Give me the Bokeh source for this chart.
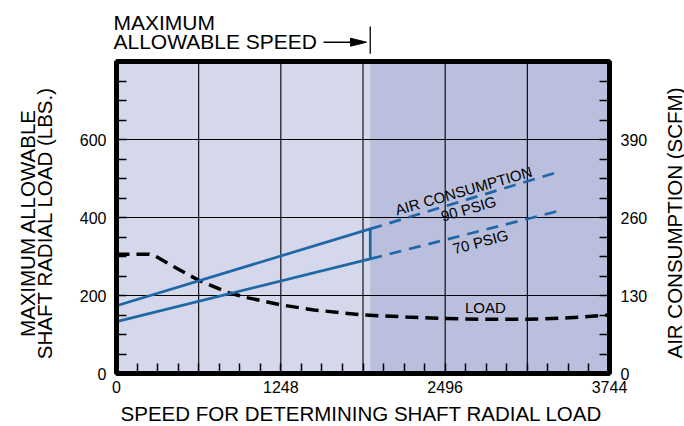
from bokeh.plotting import figure
from bokeh.models import Range1d, LinearAxis, FixedTicker, BoxAnnotation, Label
from bokeh.embed import file_html
from bokeh.resources import INLINE

# ---- data ----
speed_ticks = [0, 1248, 2496, 3744]
speed_grid = [624, 1248, 1872, 2496, 3120]
speed_minor = [156 * i for i in range(1, 24)]
load_ticks = [0, 200, 400, 600]
load_grid = [200, 400, 600]
load_minor = [50 * i for i in range(1, 16)]
air_ticks = [0, 130, 260, 390]
air_minor = [32.5 * i for i in range(1, 16)]
speed_max = 3744
load_max = 800
air_per_load = 0.65
max_speed = 1927

load_speed = [0, 250, 300, 450, 624, 850, 1000, 1248, 1500, 1872, 2200, 2496, 2800, 3120, 3400, 3744]
load_lbs = [306, 306, 300, 271, 239, 207, 194, 176, 163, 150, 145, 141, 139, 139, 142, 150]

air_solid_speed = [0, 1927, 1927, 0]
air_solid_scfm = [113, 241, 191, 86.5]
air90_dash_speed = [1927, 3340]
air90_dash_scfm = [241, 335]
air70_dash_speed = [1927, 3360]
air70_dash_scfm = [191, 271]

# ---- layout (page pixels of the chart box) ----
W, H = 684, 426
BOX_L, BOX_R, BOX_T, BOX_B = 116, 609, 61, 373
kx = (BOX_R - BOX_L) / speed_max
ky = (BOX_B - BOX_T) / load_max


def X(px):
    return (px - BOX_L) / kx


def Y(py):
    return (BOX_B - py) / ky


FONT = "Liberation Sans"
BLUE = "#1f67a6"
LIGHT = "#d5d8ea"
DARK = "#b9bfdc"

p = figure(width=W, height=H, x_range=Range1d(X(0), X(W)), y_range=Range1d(Y(H), Y(0)),
           output_backend="svg", toolbar_location=None,
           x_axis_location=None, y_axis_location=None,
           min_border_left=0, min_border_right=0, min_border_top=0, min_border_bottom=0)
p.title.visible = False
p.extra_y_ranges = {"air": Range1d(Y(H) * air_per_load, Y(0) * air_per_load)}
p.background_fill_color = "white"
p.border_fill_color = "white"
p.outline_line_color = None
for g in p.grid:
    g.visible = False

# chart box background and shaded region beyond maximum allowable speed
p.add_layout(BoxAnnotation(left=0, right=speed_max, bottom=0, top=load_max,
                           fill_color=LIGHT, fill_alpha=1.0, line_color=None, level="underlay"))
p.add_layout(BoxAnnotation(left=max_speed, right=speed_max, bottom=0, top=load_max,
                           fill_color=DARK, fill_alpha=1.0, line_color=None, level="underlay"))

# grid lines
p.segment(x0=speed_grid, x1=speed_grid, y0=[0] * len(speed_grid), y1=[load_max] * len(speed_grid),
          line_color="black", line_width=1.1)
p.segment(x0=[0] * len(load_grid), x1=[speed_max] * len(load_grid), y0=load_grid, y1=load_grid,
          line_color="black", line_width=1.1)

# data lines
p.line(load_speed, load_lbs, line_color="black", line_width=3.5, line_dash="13 7")
p.line(air_solid_speed, air_solid_scfm, y_range_name="air", line_color=BLUE, line_width=2.7)
p.line(air90_dash_speed, air90_dash_scfm, y_range_name="air", line_color=BLUE, line_width=2.7,
       line_dash="12 8")
p.line(air70_dash_speed, air70_dash_scfm, y_range_name="air", line_color=BLUE, line_width=2.7,
       line_dash="12 8")

# axes fixed on the chart box edges
xa = LinearAxis(fixed_location=0, ticker=FixedTicker(ticks=speed_ticks, minor_ticks=speed_minor),
                major_label_standoff=7)
ya = LinearAxis(fixed_location=0, ticker=FixedTicker(ticks=load_ticks, minor_ticks=load_minor),
                major_label_standoff=10)
ra = LinearAxis(fixed_location=speed_max, y_range_name="air",
                ticker=FixedTicker(ticks=air_ticks, minor_ticks=air_minor),
                major_label_standoff=11)
for ax in (xa, ya, ra):
    ax.axis_line_color = None
    ax.major_tick_in = 0
    ax.major_tick_out = 0
    ax.minor_tick_in = 10
    ax.minor_tick_out = 0
    ax.minor_tick_line_color = "black"
    ax.minor_tick_line_width = 1.5
    ax.major_label_text_font = FONT
    ax.major_label_text_font_size = "16px"
    ax.major_label_text_color = "black"
p.add_layout(xa, "below")
p.add_layout(ya, "left")
p.add_layout(ra, "right")

# chart box border
p.add_layout(BoxAnnotation(left=0, right=speed_max, bottom=0, top=load_max,
                           fill_color=None, fill_alpha=0, line_color="black", line_alpha=1.0,
                           line_width=5, level="annotation"))


def lab(x, y, text, angle=0, size="15px", align="center"):
    p.add_layout(Label(x=x, y=y, text=text, angle=angle, angle_units="deg",
                       text_align=align, text_baseline="middle",
                       text_font=FONT, text_font_size=size, text_color="black"))


# curve labels
lab(2635, 469, "AIR CONSUMPTION", angle=16)
lab(2673, 423, "90 PSIG", angle=16)
lab(2764, 338, "70 PSIG", angle=15)
lab(2801, 168, "LOAD")

# axis titles
lab(X(361), Y(412.5), "SPEED FOR DETERMINING SHAFT RADIAL LOAD", size="20.5px")
lab(X(26.5), Y(222.5), "MAXIMUM ALLOWABLE", angle=90, size="20.5px")
lab(X(43.5), Y(222.5), "SHAFT RADIAL LOAD (LBS.)", angle=90, size="20.5px")
lab(X(673.5), Y(222.5), "AIR CONSUMPTION (SCFM)", angle=90, size="20.5px")

# maximum allowable speed note with arrow
lab(X(113), Y(21.6), "MAXIMUM", size="21px", align="left")
lab(X(113), Y(41.0), "ALLOWABLE SPEED", size="21px", align="left")
p.segment(x0=[X(323)], x1=[X(352)], y0=[Y(41.7)], y1=[Y(41.7)], line_color="black", line_width=1.5)
p.patch(x=[X(350), X(366), X(350)], y=[Y(37.7), Y(41.7), Y(45.7)],
        fill_color="black", line_color="black", line_width=1)
p.segment(x0=[max_speed], x1=[max_speed], y0=[Y(26)], y1=[Y(53.3)], line_color="black",
          line_width=1.3)

open("out.html", "w").write(file_html(p, INLINE))
